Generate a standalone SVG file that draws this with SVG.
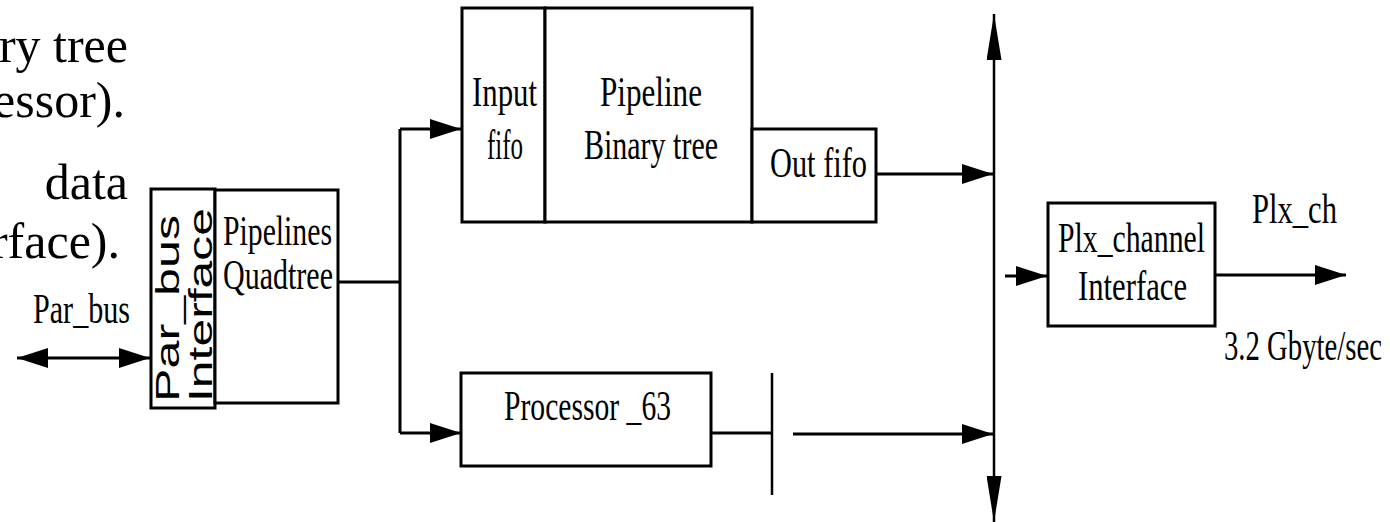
<svg xmlns="http://www.w3.org/2000/svg" width="1390" height="522" viewBox="0 0 1390 522">
<style>
.box{fill:#fff;stroke:#000;stroke-width:3}
.ln{fill:none;stroke:#000;stroke-width:3}
.bus{fill:none;stroke:#000;stroke-width:2.5}
.t{font-family:"Liberation Serif","Times New Roman",serif;font-size:42px;fill:#000}
.big{font-family:"Liberation Serif","Times New Roman",serif;font-size:50px;fill:#000}
.s{font-family:"Liberation Sans",Arial,sans-serif;font-size:34px;fill:#000}
</style>
<defs>
<marker id="ah" viewBox="0 0 31 20" refX="31" refY="10" markerWidth="31" markerHeight="20" markerUnits="userSpaceOnUse" orient="auto-start-reverse">
<path d="M0,0 L31,10 L0,20 z" fill="#000"/>
</marker>
<marker id="bh" viewBox="0 0 46 15" refX="46" refY="7.5" markerWidth="46" markerHeight="15" markerUnits="userSpaceOnUse" orient="auto-start-reverse">
<path d="M0,0 L46,7.5 L0,15 z" fill="#000"/>
</marker>
</defs>
<rect width="1390" height="522" fill="#fff"/>
<g id="side-text">
<text class="big" x="128" y="62" text-anchor="end">ry tree</text>
<text class="big" x="125" y="117" text-anchor="end">essor).</text>
<text class="big" x="128" y="199" text-anchor="end">data</text>
<text class="big" x="120" y="258" text-anchor="end">rface).</text>
</g>
<g id="connectors">
<line class="ln" x1="17" y1="358" x2="150" y2="358" marker-start="url(#ah)" marker-end="url(#ah)"/>
<polyline class="ln" points="338,282 400,282"/>
<line class="ln" x1="400" y1="129" x2="400" y2="433"/>
<line class="ln" x1="400" y1="129" x2="461" y2="129" marker-end="url(#ah)"/>
<line class="ln" x1="400" y1="433" x2="461" y2="433" marker-end="url(#ah)"/>
<line class="ln" x1="876" y1="174" x2="993" y2="174" marker-end="url(#ah)"/>
<line class="ln" x1="711" y1="433" x2="772" y2="433"/>
<line class="bus" x1="772" y1="373" x2="772" y2="495"/>
<line class="ln" x1="793" y1="434" x2="993" y2="434" marker-end="url(#ah)"/>
<line class="bus" x1="994" y1="14" x2="994" y2="522" marker-start="url(#bh)" marker-end="url(#bh)"/>
<line class="ln" x1="1005" y1="276" x2="1047" y2="276" marker-end="url(#ah)"/>
<line class="ln" x1="1215" y1="275" x2="1346" y2="275" marker-end="url(#ah)"/>
</g>
<g id="parbus-label">
<text class="t" x="33" y="323" textLength="97" lengthAdjust="spacingAndGlyphs">Par_bus</text>
</g>
<g id="parbus-interface">
<rect class="box" x="151" y="189" width="64" height="219"/>
<text class="s" transform="translate(179,402) rotate(-90)" textLength="187" lengthAdjust="spacingAndGlyphs">Par_bus</text>
<text class="s" transform="translate(212,402) rotate(-90)" textLength="194" lengthAdjust="spacingAndGlyphs">Interface</text>
</g>
<g id="quadtree">
<rect class="box" x="215" y="190" width="123" height="213"/>
<text class="t" x="223" y="245" textLength="109" lengthAdjust="spacingAndGlyphs">Pipelines</text>
<text class="t" x="223" y="289" textLength="110" lengthAdjust="spacingAndGlyphs">Quadtree</text>
</g>
<g id="input-fifo">
<rect class="box" x="462" y="8" width="83" height="214"/>
<text class="t" x="472" y="106" textLength="65" lengthAdjust="spacingAndGlyphs">Input</text>
<text class="t" x="487" y="159" textLength="36" lengthAdjust="spacingAndGlyphs">fifo</text>
</g>
<g id="binary-tree">
<rect class="box" x="545" y="8" width="207" height="214"/>
<text class="t" x="600" y="106" textLength="102" lengthAdjust="spacingAndGlyphs">Pipeline</text>
<text class="t" x="584" y="159" textLength="134" lengthAdjust="spacingAndGlyphs">Binary tree</text>
</g>
<g id="out-fifo">
<rect class="box" x="752" y="129" width="124" height="93"/>
<text class="t" x="770" y="177" textLength="97" lengthAdjust="spacingAndGlyphs">Out fifo</text>
</g>
<g id="processor">
<rect class="box" x="461" y="373" width="250" height="93"/>
<text class="t" x="504" y="420" textLength="167" lengthAdjust="spacingAndGlyphs">Processor _63</text>
</g>
<g id="plx-interface">
<rect class="box" x="1048" y="203" width="167" height="123"/>
<text class="t" x="1058" y="252" textLength="147" lengthAdjust="spacingAndGlyphs">Plx_channel</text>
<text class="t" x="1078" y="300" textLength="109" lengthAdjust="spacingAndGlyphs">Interface</text>
</g>
<g id="plx-labels">
<text class="t" x="1252" y="223" textLength="85" lengthAdjust="spacingAndGlyphs">Plx_ch</text>
<text class="t" x="1224" y="360" textLength="158" lengthAdjust="spacingAndGlyphs">3.2 Gbyte/sec</text>
</g>
</svg>
